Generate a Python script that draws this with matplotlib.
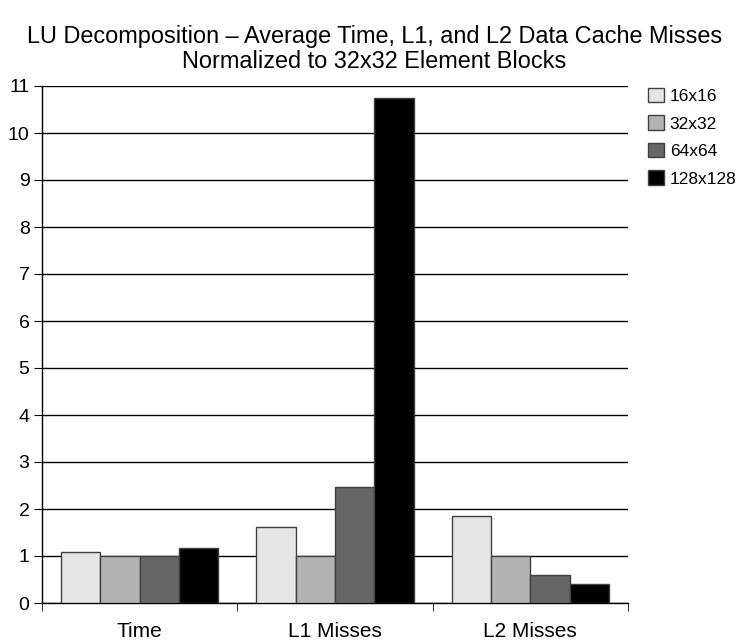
import matplotlib
matplotlib.use("Agg")
import matplotlib.pyplot as plt
import numpy as np

categories = ["Time", "L1 Misses", "L2 Misses"]
series_names = ["16x16", "32x32", "64x64", "128x128"]
values = {
    "16x16": [1.09, 1.61, 1.86],
    "32x32": [1.00, 1.00, 1.00],
    "64x64": [1.01, 2.47, 0.59],
    "128x128": [1.17, 10.75, 0.40],
}
colors = ["#e5e5e5", "#b3b3b3", "#666666", "#000000"]
yticks = list(range(0, 12))

plt.rcParams['font.family'] = ['Liberation Sans', 'DejaVu Sans']

fig = plt.figure(figsize=(7.49, 6.41), dpi=100)
ax = fig.add_axes([42/749, 38/641, (628-42)/749, (603-86)/641])

n = len(series_names)
group_w = 0.805
bw = group_w / n
x = np.arange(len(categories))
for i, name in enumerate(series_names):
    offs = -group_w/2 + bw*(i+0.5)
    ax.bar(x + offs, values[name], width=bw, color=colors[i],
           edgecolor="#404040", linewidth=1.0, label=name, zorder=3)

ax.set_xlim(-0.5, len(categories) - 0.5)
ax.set_ylim(0, 11)
ax.set_yticks(yticks)
ax.set_yticklabels([str(t) for t in yticks], fontsize=14)
ax.yaxis.grid(True, color="#000000", linewidth=1.0, zorder=0)
ax.set_xticks(x)
ax.set_xticklabels(categories, fontsize=15)
ax.tick_params(axis='x', length=0, pad=14)
ax.set_xticks(np.arange(-0.5, len(categories)), minor=True)
ax.tick_params(axis='x', which='minor', length=6, direction='out')
ax.tick_params(axis='y', length=6, direction='out', pad=3)
for s in ["top", "right"]:
    ax.spines[s].set_visible(False)
ax.spines["left"].set_linewidth(1.0)
ax.spines["bottom"].set_linewidth(1.0)

fig.text(0.5, 1 - 49/641, "LU Decomposition \u2013 Average Time, L1, and L2 Data Cache Misses\nNormalized to 32x32 Element Blocks",
         ha="center", va="center", fontsize=16.9, linespacing=1.1)

leg = ax.legend(loc="upper left", bbox_to_anchor=(648/749, 1 - 88/641), bbox_transform=fig.transFigure,
                frameon=False, fontsize=12.5, handlelength=0.9, handleheight=0.9,
                handletextpad=0.35, labelspacing=0.65, borderaxespad=0, borderpad=0)

fig.savefig("out.png", dpi=100)
